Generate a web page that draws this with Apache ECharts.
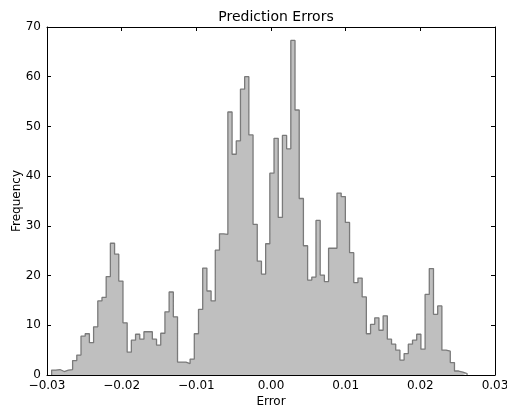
<!DOCTYPE html>
<html>
<head>
<meta charset="utf-8">
<script src="https://cdn.jsdelivr.net/npm/echarts@6/dist/echarts.min.js"></script>
<style>
  html, body { margin: 0; padding: 0; background: #ffffff; }
  #chart { width: 507px; height: 412px; }
</style>
</head>
<body>
<div id="chart"></div>
<script>
// Histogram of prediction errors: left edge of the first bin and the common bin width
const binStart = -0.02938;
const binWidth = 0.000562;

// Frequency of each bin, left to right
const frequencies = [
  1.0, 1.1, 0.7, 1.0, 1.1, 2.9, 4.0, 7.8, 8.3, 6.5,
  9.7, 14.9, 15.6, 19.8, 26.5, 24.3, 18.9, 10.5, 4.6, 7.0,
  8.2, 7.2, 8.7, 8.7, 7.2, 6.0, 8.4, 12.7, 16.7, 11.7,
  2.6, 2.6, 2.3, 3.2, 8.3, 13.2, 21.5, 16.9, 14.9, 25.1,
  28.4, 28.3, 52.9, 44.4, 47.1, 57.5, 60.0, 48.3, 30.3, 22.9,
  20.3, 26.4, 40.6, 47.6, 31.7, 48.2, 45.5, 67.3, 53.3, 35.5,
  26.0, 19.1, 19.7, 31.1, 20.1, 18.8, 25.5, 25.5, 36.6, 35.9,
  30.7, 24.6, 18.6, 19.5, 15.7, 8.3, 10.2, 11.5, 9.0, 11.9,
  7.2, 6.2, 5.0, 3.0, 4.3, 6.2, 7.0, 8.2, 5.2, 16.2,
  21.4, 12.2, 13.9, 5.0, 4.8, 2.5, 0.8, 0.6, 0.3
];

// Axis ranges and ticks
const xMin = -0.03, xMax = 0.03, xStep = 0.01;
const yMin = 0, yMax = 70, yStep = 10;

// Step outline: each point holds the bin's left edge and its height,
// closed back down to zero at the right edge of the last bin.
const edges = frequencies.map((_, i) => binStart + i * binWidth);
const lastEdge = binStart + frequencies.length * binWidth;
const outline = [[binStart, 0]]
  .concat(frequencies.map((f, i) => [edges[i], f]))
  .concat([[lastEdge, 0]]);

const FONT = 'DejaVu Sans';

function fmtX(v) {
  if (Math.abs(v) < 1e-9) return '0.00';
  return (v < 0 ? '\u2212' : '') + Math.abs(v).toFixed(2);
}

const tickStyle = { show: true, inside: true, length: 4, lineStyle: { color: '#000', width: 1 } };
const lineStyle = { show: true, onZero: false, lineStyle: { color: '#000', width: 1 } };

// Fixed plot rectangle; tick labels may run past the canvas edge
const grid = { left: 47, right: 12, top: 27, bottom: 37, containLabel: false, outerBoundsMode: 'none' };
const plotCenterX = grid.left + (507 - grid.left - grid.right) / 2;

const chart = echarts.init(document.getElementById('chart'), null, { renderer: 'canvas' });
chart.setOption({
  animation: false,
  backgroundColor: '#ffffff',
  title: {
    text: 'Prediction Errors',
    left: plotCenterX,
    textAlign: 'center',
    top: 5,
    textStyle: { fontFamily: FONT, fontSize: 14, fontWeight: 'normal', color: '#000' }
  },
  grid: grid,
  xAxis: [
    {
      type: 'value', min: xMin, max: xMax, interval: xStep, position: 'bottom',
      name: 'Error', nameLocation: 'middle', nameGap: 21, nameMoveOverlap: false,
      nameTextStyle: { fontFamily: FONT, fontSize: 12, color: '#000' },
      axisLine: lineStyle, axisTick: tickStyle, splitLine: { show: false },
      axisLabel: { fontFamily: FONT, fontSize: 12, color: '#000', margin: 5, formatter: fmtX }
    },
    {
      type: 'value', min: xMin, max: xMax, interval: xStep, position: 'top',
      axisLine: lineStyle, axisTick: tickStyle, splitLine: { show: false },
      axisLabel: { show: false }
    }
  ],
  yAxis: [
    {
      type: 'value', min: yMin, max: yMax, interval: yStep, position: 'left',
      name: 'Frequency', nameLocation: 'middle', nameGap: 24, nameMoveOverlap: false,
      nameTextStyle: { fontFamily: FONT, fontSize: 12, color: '#000' },
      axisLine: lineStyle, axisTick: tickStyle, splitLine: { show: false },
      axisLabel: { fontFamily: FONT, fontSize: 12, color: '#000', margin: 6 }
    },
    {
      type: 'value', min: yMin, max: yMax, interval: yStep, position: 'right',
      axisLine: lineStyle, axisTick: tickStyle, splitLine: { show: false },
      axisLabel: { show: false }
    }
  ],
  series: [
    {
      type: 'line',
      xAxisIndex: 0,
      yAxisIndex: 0,
      step: 'end',
      data: outline,
      showSymbol: false,
      symbol: 'none',
      lineStyle: { color: '#7a7a7a', width: 1.3 },
      areaStyle: { color: '#bfbfbf', opacity: 1, origin: 'start' },
      z: 1
    }
  ]
});
</script>
</body>
</html>
